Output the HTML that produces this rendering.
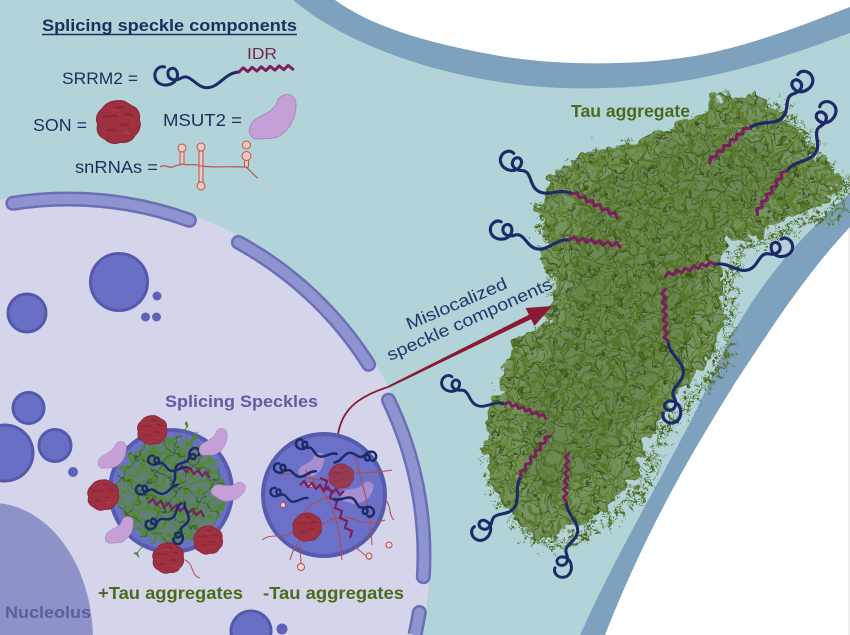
<!DOCTYPE html>
<html><head><meta charset="utf-8"><style>html,body{margin:0;padding:0;background:#fff;width:850px;height:635px;overflow:hidden}svg{display:block;overflow:hidden}</style></head>
<body>
<svg width="850" height="635" viewBox="0 0 850 635" xmlns="http://www.w3.org/2000/svg" font-family="'Liberation Sans', sans-serif">
<defs>
 <clipPath id="frame"><rect width="850" height="635"/></clipPath>
 <filter id="rough" x="-10%" y="-10%" width="120%" height="120%">
  <feTurbulence type="fractalNoise" baseFrequency="0.06" numOctaves="3" seed="3" result="t"/>
  <feDisplacementMap in="SourceGraphic" in2="t" scale="26" xChannelSelector="R" yChannelSelector="G"/>
 </filter>
 <filter id="rough2" x="-20%" y="-20%" width="140%" height="140%">
  <feTurbulence type="fractalNoise" baseFrequency="0.12" numOctaves="2" seed="5" result="t"/>
  <feDisplacementMap in="SourceGraphic" in2="t" scale="12" xChannelSelector="R" yChannelSelector="G"/>
 </filter>
 <filter id="fuzz" x="-10%" y="-10%" width="120%" height="120%">
  <feTurbulence type="turbulence" baseFrequency="0.09" numOctaves="2" seed="8" result="t"/>
  <feDisplacementMap in="SourceGraphic" in2="t" scale="30" xChannelSelector="R" yChannelSelector="G"/>
 </filter>
 <pattern id="mesh" width="30" height="30" patternUnits="userSpaceOnUse" patternTransform="rotate(20)">
  <rect width="30" height="30" fill="#9cbcae" opacity=".3"/>
  <path d="M0,5 Q8,1 15,7 T30,5 M0,20 Q8,16 15,22 T30,20 M5,0 Q1,8 7,15 T5,30 M20,0 Q16,8 22,15 T20,30" stroke="#5b7a2d" stroke-width="2.6" fill="none"/>
  <path d="M0,12 L30,10 M12,0 L10,30 M0,27 L30,25 M27,0 L25,30" stroke="#354c18" stroke-width="1" fill="none"/>
  <path d="M0,0 L30,30 M30,0 L0,30" stroke="#6a893a" stroke-width="1.4" fill="none"/>
 </pattern>
 <pattern id="meshG" width="26" height="26" patternUnits="userSpaceOnUse" patternTransform="rotate(35)">
  <path d="M0,5 Q7,1 13,6 T26,5 M0,18 Q7,14 13,19 T26,18 M5,0 Q1,7 6,13 T5,26 M18,0 Q14,7 19,13 T18,26" stroke="#4f8a2c" stroke-width="2.2" fill="none"/>
  <path d="M0,11 L26,9 M11,0 L9,26" stroke="#2f5a1c" stroke-width="1" fill="none"/>
 </pattern>
 <g id="curl" fill="none" stroke-linecap="round" stroke-linejoin="round" stroke="#1c2a6a">
  <path d="M2,-9 C-4,-11 -9,-5 -8,1 C-7,7 -1,10 5,9 C12,8 16,2 14,-4 C12,-9 5,-8 5,-2 C5,4 12,6 18,3 C28,-2 32,14 44,14 C56,14 62,0 76,0"/>
 </g>
 <g id="srrm" fill="none" stroke-linecap="round" stroke-linejoin="round">
  <path stroke="#1c2a6a" d="M2,-9 C-4,-11 -9,-5 -8,1 C-7,7 -1,10 5,9 C12,8 16,2 14,-4 C12,-9 5,-8 5,-2 C5,4 12,6 18,3 C28,-2 32,14 44,14 C56,14 62,0 76,0"/>
  <path stroke="#7a1f5e" d="M76,0 l4.5,-4 l4.5,4 l4.5,-4 l4.5,4 l4.5,-4 l4.5,4 l4.5,-4 l4.5,4 l4.5,-4 l4.5,4 l4.5,-4 l4.5,4"/>
 </g>
 <g id="son">
  <g fill="#9e303f" stroke="#86263a" stroke-width="1">
   <path d="M0,-19 C6,-20 9,-16 13,-14 C18,-12 20,-7 19,-2 C21,3 19,9 15,12 C13,17 7,19 2,18 C-3,21 -9,18 -12,15 C-17,13 -20,8 -18,2 C-21,-3 -18,-9 -14,-12 C-11,-17 -5,-19 0,-19 Z"/>
  </g>
  <path d="M-8,-4 q4,-4 8,0 M2,4 q4,-4 8,0 M-10,8 q4,-3 7,0 M-2,-12 q4,-3 7,0 M6,-6 q3,-3 7,1 M-14,-4 q3,-3 6,0" stroke="#76202d" stroke-width="1.2" fill="none" opacity=".7"/>
  <path d="M-6,-10 q4,-2 7,1 M4,10 q4,-2 7,1" stroke="#b84a58" stroke-width="1.2" fill="none" opacity=".6"/>
 </g>
 <path id="bean" d="M-16,1 C-6,-5 1,-7 4,-17 C8,-25 22,-25 22,-12 C22,1 16,11 8,17 C2,23 -8,21 -16,22 C-26,23 -29,7 -16,1 Z" fill="#c4a0d6" stroke="#a987c2" stroke-width="1"/>
 <path id="agg" d="M718,97 L760,95 L790,120 L815,150 L838,183 L825,207 L792,213 L760,232 L727,243 L722,277 L720,337 L713,363 L693,377 L653,430 L640,463 L630,487 L593,517 L548,540 L518,527 L488,473 L482,450 L495,410 L502,367 L532,327 L552,310 L555,297 L545,253 L538,200 L558,173 L578,153 L605,150 L658,133 L702,113 Z"/>
</defs>
<g clip-path="url(#frame)">
<!-- cytoplasm -->
<rect width="850" height="635" fill="#b2d4d9"/>
<!-- top membrane -->
<path d="M293,0 C340,40 420,70 500,82 C560,92 640,90 700,78 C760,66 810,48 850,33 L850,0 Z" fill="#7ea2bd"/>
<path d="M335,0 C370,25 420,42 500,56 C560,66 640,66 700,55 C760,43 810,22 850,7 L850,0 Z" fill="#ffffff"/>
<!-- right membrane -->
<path d="M850,193 C790,245 745,300 710,380 C680,450 630,525 580,635 L850,635 Z" fill="#7ea2bd"/>
<path d="M850,227 C805,275 770,330 735,383 C700,440 650,520 605,635 L850,635 Z" fill="#ffffff"/>
<line x1="849" y1="228" x2="849" y2="635" stroke="#dcdcdc" stroke-width="1"/>

<!-- nucleus -->
<path d="M0,199.4 A362,362 0 0 1 421,635 L0,635 Z" fill="#d4d5eb"/>
<path d="M0,503.4 A101,137 0 0 1 92.9,635 L0,635 Z" fill="#8e92c8"/>
<g fill="none" stroke-linecap="round">
 <g stroke="#6a6fb6" stroke-width="15">
  <path d="M12.9,203.3 A356,356 0 0 1 189.4,220.3"/>
  <path d="M238.4,242.4 A356,356 0 0 1 368.6,364.3"/>
  <path d="M388.5,400.1 A356,356 0 0 1 423.3,576.7"/>
  <path d="M419.3,612.5 A356,356 0 0 1 414.9,635" stroke-linecap="butt"/>
 </g>
 <circle cx="419.3" cy="612.5" r="7.5" fill="#6a6fb6" stroke="none"/>
 <g stroke="#8f94d1" stroke-width="10">
  <path d="M12.9,203.3 A356,356 0 0 1 189.4,220.3"/>
  <path d="M238.4,242.4 A356,356 0 0 1 368.6,364.3"/>
  <path d="M388.5,400.1 A356,356 0 0 1 423.3,576.7"/>
  <path d="M419.3,612.5 A356,356 0 0 1 414.9,635" stroke-linecap="butt"/>
 </g>
 <circle cx="419.3" cy="612.5" r="5" fill="#8f94d1" stroke="none"/>
</g>
<!-- chromatin -->
<g fill="#6a6fc6" stroke="#5459ab" stroke-width="3">
 <circle cx="119" cy="282" r="28.5"/>
 <circle cx="27" cy="313" r="19"/>
 <circle cx="28.5" cy="408" r="15.5"/>
 <path d="M0,425.45 A28,28 0 1 1 0,480.55 Z" stroke="none"/>
 <path d="M0,425.45 A28,28 0 1 1 0,480.55" fill="none"/>
 <circle cx="55" cy="445.5" r="16"/>
 <path d="M231.4,635 A20,20 0 1 1 270.6,635 Z" stroke="none"/>
 <path d="M231.4,635 A20,20 0 1 1 270.6,635" fill="none"/>
</g>
<g fill="#5d62b8">
 <circle cx="157" cy="296" r="4.5"/><circle cx="145.5" cy="317" r="4.5"/><circle cx="156.5" cy="317" r="4.5"/><circle cx="73" cy="472" r="5"/><circle cx="282" cy="629" r="5.5"/>
</g>

<!-- Speckle 1 (+Tau) -->
<circle cx="171" cy="491" r="61" fill="#6b70c8" stroke="#565bae" stroke-width="4"/>
<g filter="url(#rough2)">
 <circle cx="171" cy="491" r="52" fill="#5a8a36" opacity=".55"/>
 <circle cx="171" cy="491" r="55" fill="url(#meshG)"/>
 <path d="M185,432 l3,-10 M140,545 l-3,12 M160,550 l2,14 M190,440 l6,-8 M130,470 l-12,-3 M150,440 l-4,-10" stroke="#4f8a2c" stroke-width="2" fill="none"/>
</g>
<path d="M148,503 L153,499 L156,505 L161,501 L164,507 L169,503 L172,509 L177,505 L180,511 L185,507 L188,513 L193,509 L196,515 L201,511 L204,517" stroke="#7a1f5e" stroke-width="2.2" fill="none"/>
<path d="M178,470 L182,466 L186,472 L190,468 L194,474 L198,470 L202,476 L206,472 L210,478" stroke="#7a1f5e" stroke-width="2.2" fill="none"/>
<use href="#curl" transform="translate(152,460) rotate(12) scale(.48)" stroke-width="5"/>
<use href="#curl" transform="translate(195,452) rotate(125) scale(.5)" stroke-width="5"/>
<use href="#curl" transform="translate(150,525) rotate(-35) scale(.5)" stroke-width="5"/>
<use href="#curl" transform="translate(140,490) rotate(-8) scale(.5)" stroke-width="5"/>
<use href="#curl" transform="translate(178,540) rotate(-80) scale(.5)" stroke-width="5"/>
<use href="#bean" transform="translate(113,455) scale(.6)"/>
<use href="#bean" transform="translate(214,442) scale(.6)"/>
<use href="#bean" transform="translate(229,490) rotate(35) scale(.6)"/>
<use href="#bean" transform="translate(120,530) scale(.6)"/>
<use href="#son" transform="translate(152,430) scale(.76)"/>
<use href="#son" transform="translate(103,495) scale(.8)"/>
<use href="#son" transform="translate(208,540) scale(.74)"/>
<use href="#son" transform="translate(168,558) scale(.8)"/>
<path d="M185,560 C195,565 190,575 200,578" stroke="#b24c48" stroke-width="1" fill="none"/>

<!-- Speckle 2 (-Tau) -->
<circle cx="324" cy="495" r="61" fill="#6b70c8" stroke="#565bae" stroke-width="4"/>
<use href="#bean" transform="translate(312,465) scale(.55)" opacity=".65"/>
<use href="#bean" transform="translate(358,492) rotate(20) scale(.6)" opacity=".65"/>
<g stroke="#b24c48" stroke-width="1" fill="none">
 <path d="M262,540 C275,530 290,545 300,520 C310,495 330,505 345,480"/>
 <path d="M290,560 C295,540 310,530 330,520 C350,510 360,530 385,520"/>
 <path d="M305,470 C320,490 335,500 340,540 L342,560"/>
 <path d="M355,455 C360,480 370,500 372,545"/>
 <path d="M280,475 C300,470 315,485 330,478 C350,470 365,475 392,470"/>
 <path d="M352,545 C360,550 365,555 370,560"/>
 <path d="M300,545 L301,563 M385,500 C392,505 388,515 394,520"/>
</g>
<g fill="#f0d8d0" stroke="#b24c48" stroke-width="1"><circle cx="301" cy="567" r="3.5"/><circle cx="369" cy="556" r="3"/><circle cx="389" cy="545" r="3"/><circle cx="283" cy="505" r="2.5"/><circle cx="310" cy="485" r="2.5"/></g>
<use href="#son" transform="translate(341,476) scale(.64)" opacity=".85"/>
<use href="#son" transform="translate(307,527) scale(.74)"/>
<path d="M320,478 L327,481 L325,488 L332,491 L330,498 L337,501 L335,508 L342,511 L340,518 L347,521 L345,528 L352,531 L350,538" stroke="#7a1f5e" stroke-width="2.2" fill="none"/>
<path d="M300,485 L304,481 L308,487 L312,483 L316,489 L320,485 L324,491 L328,487 L332,493 L336,489 L340,495 L344,491" stroke="#7a1f5e" stroke-width="2.2" fill="none"/>
<use href="#curl" transform="translate(300,444) rotate(15) scale(.5)" stroke-width="5"/>
<use href="#curl" transform="translate(278,468) rotate(5) scale(.5)" stroke-width="5"/>
<use href="#curl" transform="translate(274,492) rotate(10) scale(.45)" stroke-width="5"/>
<use href="#curl" transform="translate(372,456) rotate(170) scale(.5)" stroke-width="5"/>
<use href="#curl" transform="translate(370,512) rotate(200) scale(.5)" stroke-width="5"/>

<!-- Tau aggregate -->
<use href="#agg" fill="none" stroke="#5a782f" stroke-width="14" stroke-dasharray="1.5 4" filter="url(#fuzz)"/>
<use href="#agg" fill="none" stroke="#4d6a26" stroke-width="4" stroke-dasharray="8 6" filter="url(#fuzz)"/>
<g filter="url(#rough)">
 <use href="#agg" fill="#5e7d35" opacity=".92"/>
 <use href="#agg" fill="url(#mesh)"/>
 <path d="M700,130 L780,150 L800,190 L740,220 L700,260 L690,330 L650,400 L600,470 L550,500 L520,460 L525,380 L570,320 L575,240 L580,190 L640,160 Z" fill="#435d1c" opacity=".2"/>
</g>
<use href="#srrm" transform="translate(508,160) rotate(28) scale(.95)" stroke-width="3.3"/>
<use href="#srrm" transform="translate(498,230) rotate(8) scale(.95)" stroke-width="3.3"/>
<use href="#srrm" transform="translate(805,80) rotate(139) scale(.97,-.97)" stroke-width="3.3"/>
<use href="#srrm" transform="translate(828,110) rotate(124) scale(.97,-.97)" stroke-width="3.3"/>
<use href="#srrm" transform="translate(785,247) rotate(166) scale(.95,-.95)" stroke-width="3.3"/>
<use href="#srrm" transform="translate(672,415) rotate(-93) scale(.97)" stroke-width="3.3"/>
<use href="#srrm" transform="translate(448,383) rotate(20) scale(.8)" stroke-width="3.6"/>
<use href="#srrm" transform="translate(480,533) rotate(-54) scale(.92)" stroke-width="3.3"/>
<use href="#srrm" transform="translate(563,570) rotate(-87) scale(.9)" stroke-width="3.3"/>

<!-- Arrow -->
<path d="M338,434 C342,412 354,398 388,387" stroke="#8a1a32" stroke-width="1.8" fill="none"/>
<polygon points="388.4,387.9 533.1,318.2 530.9,313.8 387.6,386.1" fill="#8a1a32"/>
<polygon points="552,306 534.4,326 525.6,308" fill="#8a1a32"/>

<!-- Labels -->
<text x="571" y="117" font-size="17.5" font-weight="bold" fill="#4b6a1e" textLength="119" lengthAdjust="spacingAndGlyphs">Tau aggregate</text>
<text x="165" y="407" font-size="17" font-weight="bold" fill="#5b5ea6" textLength="153" lengthAdjust="spacingAndGlyphs">Splicing Speckles</text>
<text x="98" y="599" font-size="17.5" font-weight="bold" fill="#4a6a1c" textLength="145" lengthAdjust="spacingAndGlyphs">+Tau aggregates</text>
<text x="263" y="599" font-size="17.5" font-weight="bold" fill="#4a6a1c" textLength="141" lengthAdjust="spacingAndGlyphs">-Tau aggregates</text>
<text x="5" y="618" font-size="17" font-weight="bold" fill="#5a5e9f" textLength="86" lengthAdjust="spacingAndGlyphs">Nucleolus</text>
<text transform="translate(409,330) rotate(-23)" font-size="17" fill="#233468" textLength="108" lengthAdjust="spacingAndGlyphs">Mislocalized</text>
<text transform="translate(390,361) rotate(-24)" font-size="17" fill="#233468" textLength="179" lengthAdjust="spacingAndGlyphs">speckle components</text>

<!-- Legend -->
<text x="42" y="31" font-size="16.5" font-weight="bold" fill="#1f2c5e" textLength="255" lengthAdjust="spacingAndGlyphs">Splicing speckle components</text>
<line x1="42" y1="34.5" x2="297" y2="34.5" stroke="#1f2c5e" stroke-width="1.6"/>
<text x="62" y="84" font-size="16.5" fill="#1f2c5e" textLength="76" lengthAdjust="spacingAndGlyphs">SRRM2 =</text>
<text x="247" y="59" font-size="16" fill="#7b1f4b" textLength="30" lengthAdjust="spacingAndGlyphs">IDR</text>
<use href="#srrm" transform="translate(163,76) rotate(-3)" stroke-width="3"/>
<text x="33" y="131" font-size="17.5" fill="#1f2c5e" textLength="54" lengthAdjust="spacingAndGlyphs">SON =</text>
<use href="#son" transform="translate(118,122) scale(1.12)"/>
<text x="163" y="126" font-size="17.5" fill="#1f2c5e" textLength="79" lengthAdjust="spacingAndGlyphs">MSUT2 =</text>
<use href="#bean" transform="translate(274,117)"/>
<text x="75" y="173" font-size="17.5" fill="#1f2c5e" textLength="83" lengthAdjust="spacingAndGlyphs">snRNAs =</text>
<g stroke="#b9564f" stroke-width="1.2" fill="none">
 <path d="M160,167 C165,163 170,170 175,166 C178,164 180,166 182,164 M182,164 C188,166 194,163 201,166 M201,166 C215,168 225,166 246,167 M246,167 C250,170 252,174 258,178"/>
</g>
<g stroke="#b9564f" stroke-width="1" fill="#eec7bf">
 <rect x="180" y="151" width="4" height="13"/>
 <rect x="199" y="151" width="4" height="15"/>
 <rect x="199" y="166" width="4" height="16"/>
 <rect x="244.5" y="160" width="4" height="7"/>
 <circle cx="182" cy="148" r="4"/>
 <circle cx="201" cy="147" r="4"/>
 <circle cx="201" cy="186" r="4"/>
 <circle cx="246.5" cy="145" r="4"/>
 <circle cx="246.5" cy="156" r="4.5"/>
</g>
</g>
</svg>
</body></html>
